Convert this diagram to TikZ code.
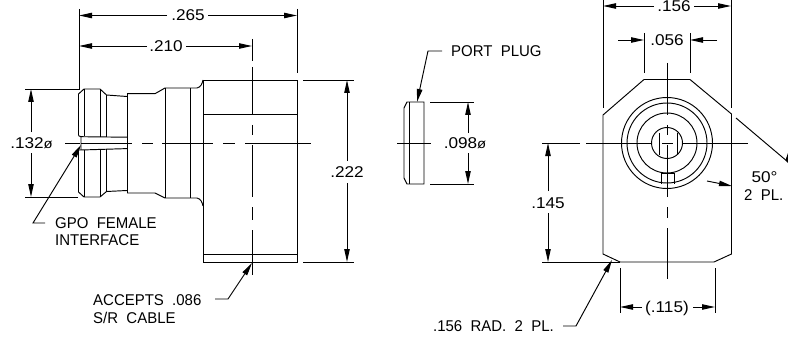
\documentclass[tikz,border=0pt]{standalone}
\usepackage{fontspec}
\usetikzlibrary{arrows.meta}
\setmainfont{Liberation Sans}
\newfontfamily\digf[FakeStretch=1.1]{Liberation Sans}
\newfontfamily\capf[FakeStretch=0.96,WordSpace=2]{Liberation Sans}
\tikzset{
  part/.style={line width=0.95pt,black,line cap=butt,line join=miter},
  dimline/.style={line width=0.95pt,black},
  tip/.style={dimline,-{Triangle[length=13pt,width=5.4pt]}},
  dimtext/.style={inner sep=0pt,anchor=base,font=\fontsize{15.6}{15.6}\selectfont\digf},
  note/.style={inner sep=0pt,anchor=base west,font=\fontsize{15.6}{15.6}\selectfont\capf},
}
\newcommand{\dia}{{\fontsize{13.5}{13.5}\selectfont ø}}
\begin{document}
\begin{tikzpicture}[x=1pt,y=-1pt]
\useasboundingbox (0,0) rectangle (788,337);
\clip (0,0) rectangle (788,337);
% ===== left view: connector =====
\draw[part] (78.5,135.7) -- (78.5,94) -- (84,89) -- (100,89) -- (106.5,95) -- (127,96.5) (127,93.7) -- (155,93.7) -- (165,88) -- (190,88) -- (197,88) .. controls (201,87) and (202,84) .. (203,80);
\draw[part] (78.5,150) -- (78.5,192) -- (84,197) -- (100,197) -- (106.5,191.5) -- (127,190.5) (127,193) -- (155,193) -- (165,198) -- (190,198) -- (197,198) .. controls (201,199) and (202,202) .. (203,206);
\draw[part] (84,89) -- (84,136.3) (100,89) -- (100,136.5) (106.5,95) -- (106.5,136.8);
\draw[part] (84,149.8) -- (84,197) (100,149.6) -- (100,197) (106.5,149.4) -- (106.5,191.5);
\draw[part] (127,93.7) -- (127,193);
\draw[part] (165,88) -- (165,198) (190,88) -- (190,198);
\draw[part] (78.5,135.7) -- (81,136.7) -- (127,137.2) (78.5,150) -- (81,150) -- (127,148.6) (81,136.7) -- (81,150);
% body
\draw[part] (203,80) rectangle (297,262);
\draw[part] (203,114) -- (297,114) (203,254) -- (297,254);
% centre lines
\draw[dimline] (65,143) -- (80,143) (81,143) -- (132,143) (142,143) -- (153,143) (162,143) -- (213,143) (223,143) -- (235,143) (245,143) -- (311,143);
\draw[dimline] (252,39) -- (252,61) (252,67) -- (252,114) (252,125) -- (252,135) (252,145) -- (252,197) (252,207) -- (252,220) (252,230) -- (252,275);
% dimensions left view
\draw[dimline] (79,9) -- (79,89) -- (25,89) (25,197) -- (78,197);
\draw[dimline] (297,9) -- (297,73);
\node[dimtext] (d265) at (188,20.5) {.265};
\node[dimtext] (d210) at (166,51.5) {.210};
\draw[tip] (167,15.5) -- (79,15.5);
\draw[tip] (208,15.5) -- (297,15.5);
\draw[tip] (147,46) -- (79,46);
\draw[tip] (186,46) -- (252,46);
\node[dimtext] (d132) at (31.5,148.5) {.132\dia};
\draw[tip] (31,132) -- (31,89);
\draw[tip] (31,153) -- (31,197);
\draw[dimline] (303,80) -- (354,80) (303,262) -- (354,262);
\node[dimtext] (d222) at (347,177.5) {.222};
\draw[tip] (347,161) -- (347,80);
\draw[tip] (347,183) -- (347,262);
% notes left
\node[note] (gpoa) at (55,228.5) {GPO FEMALE};
\node[note] (gpob) at (55,245) {INTERFACE};
\coordinate (gpoe) at (45,223);
\coordinate (gpok) at (33,223);
\coordinate (gpot) at (81,145);
\draw[tip] (gpoe) -- (gpok) -- (gpot);
\node[note] (acca) at (93,305.5) {ACCEPTS .086};
\node[note] (accb) at (93,323.5) {S/R CABLE};
\coordinate (acce) at (215,299);
\coordinate (acck) at (228,299);
\coordinate (acct) at (252,263);
\draw[tip] (acce) -- (acck) -- (acct);
% ===== port plug =====
\draw[part] (407,102) -- (424,102) -- (424,184) -- (407,184) -- (404,178) -- (404,108) -- cycle;
\draw[part] (409,102) -- (409,184);
\draw[dimline] (397,143) -- (431,143);
\draw[dimline] (430,102) -- (474,102) (430,184) -- (474,184);
\node[dimtext] (d098) at (465,148.5) {.098\dia};
\draw[tip] (468,133) -- (468,102);
\draw[tip] (468,153) -- (468,184);
\node[note] (plug) at (451,56.5) {PORT PLUG};
\coordinate (pluge) at (442,51);
\coordinate (plugk) at (428,51);
\coordinate (plugt) at (417,102);
\draw[tip] (pluge) -- (plugk) -- (plugt);
% ===== end view =====
\draw[part] (644,79.5) -- (690,79.5) -- (731.5,114) -- (731.5,254) -- (714,262) -- (620,262) -- (603,254) -- (603,115) -- cycle;
\draw[part] (667,143) circle[radius=45.5] circle[radius=40] circle[radius=30] circle[radius=15.5];
\draw[part] (659,133) -- (659,155) (677,133) -- (677,155);
\draw[part] (661,173) -- (674,173) (661,173) -- (661,184) (674,173) -- (674,184);
% centre lines
\draw[dimline] (542,143) -- (580,143) (586,143) -- (652,143) (662,143) -- (673,143) (682,143) -- (748,143);
\draw[dimline] (667,63) -- (667,115) (667,125) -- (667,135) (667,145) -- (667,197) (667,207) -- (667,218) (667,228) -- (667,279);
% dimensions
\draw[dimline] (603,0) -- (603,108) (731,0) -- (731,108);
\node[dimtext] (d156) at (674,11.5) {.156};
\draw[tip] (654,6) -- (603,6);
\draw[tip] (694,6) -- (731,6);
\draw[dimline] (644,33) -- (644,73) (690,33) -- (690,73);
\node[dimtext] (d056) at (667,45.5) {.056};
\draw[tip] (618,40) -- (644,40);
\draw[tip] (717,40) -- (690,40);
\draw[dimline] (542,262) -- (620,262);
\node[dimtext] (d145) at (548,208.5) {.145};
\draw[tip] (548,191) -- (548,143);
\draw[tip] (548,213) -- (548,262);
\draw[dimline] (620,268) -- (620,313) (715,268) -- (715,313);
\node[dimtext] (d115) at (667,312.5) {(.115)};
\draw[tip] (642,307) -- (620,307);
\draw[tip] (693,307) -- (715,307);
\node[note,anchor=base east] (rad) at (554,331.5) {.156 RAD. 2 PL.};
\coordinate (rade) at (563,326);
\coordinate (radk) at (576,326);
\coordinate (radt) at (612,260);
\draw[tip] (rade) -- (radk) -- (radt);
% 50 deg
\node[dimtext] (d50) at (764.5,182.5) {50°};
\node[note] (pl2) at (744,200.5) {2 PL.};
\coordinate (ange) at (707,181);
\coordinate (angt) at (732,186);
\draw[tip] (ange) -- (angt);
\draw[dimline] (736,118) -- (788,162);
\fill (785.5,160) -- (788,153) -- (788,163) -- cycle;
\end{tikzpicture}
\end{document}
